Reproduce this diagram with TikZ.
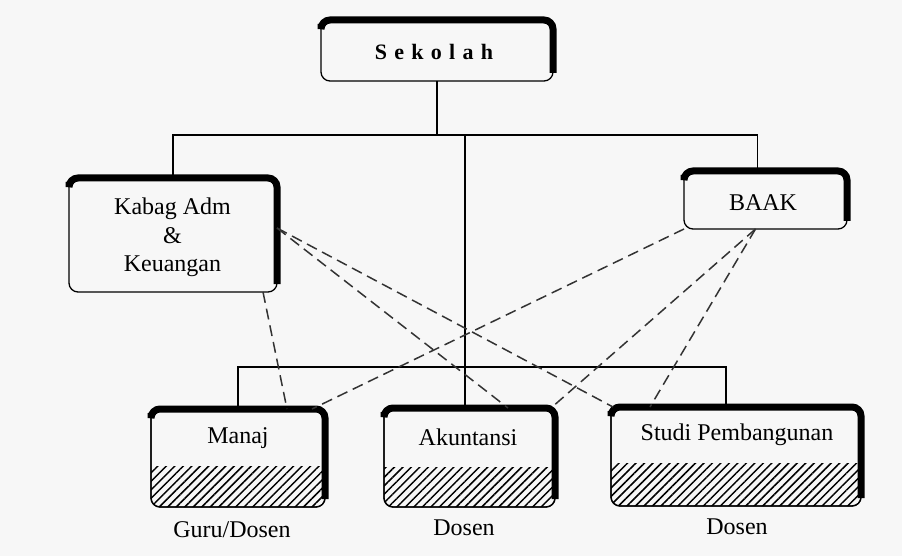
\documentclass[tikz,border=0pt]{standalone}
\usepackage{fontspec}
\setmainfont{Liberation Serif}
\newfontfamily\sekfont[LetterSpace=33]{Liberation Serif}
\usetikzlibrary{patterns.meta}
\begin{document}
\begin{tikzpicture}[x=1pt,y=-1pt,
  box/.style={draw, line width=1.3pt, rounded corners=9pt, inner sep=0pt, outer sep=0pt},
  shadowline/.style={line width=7pt, rounded corners=9pt},
  conn/.style={line width=1.8pt},
  dashlink/.style={line width=1.5pt, black!80, dash pattern=on 11pt off 6pt},
  txt/.style={font=\fontsize{24}{28.5}\selectfont, inner sep=0pt, align=center},
  hatch/.style={pattern={Lines[angle=45,distance=6pt,line width=1.5pt]}}]
\useasboundingbox (0,0) rectangle (902,556);
\fill[black!3] (0,0) rectangle (902,556);

% boxes
\node[box, minimum width=232pt, minimum height=61pt] (sek) at (437,50.5) {};
\node[box, minimum width=208pt, minimum height=114pt] (kabag) at (173,235) {};
\node[box, minimum width=163pt, minimum height=58pt] (baak) at (765.5,200) {};
\node[box, minimum width=174pt, minimum height=98pt] (manaj) at (238,458) {};
\node[box, minimum width=171pt, minimum height=99pt] (akun) at (469.5,457.5) {};
\node[box, minimum width=250pt, minimum height=99pt] (studi) at (736,456.5) {};

% hatched lower parts
\begin{scope}
  \clip[rounded corners=9pt] (manaj.north west) rectangle (manaj.south east);
  \path[hatch] (manaj.south west) rectangle ([yshift=41pt]manaj.south east);
\end{scope}
\begin{scope}
  \clip[rounded corners=9pt] (akun.north west) rectangle (akun.south east);
  \path[hatch] (akun.south west) rectangle ([yshift=40pt]akun.south east);
\end{scope}
\begin{scope}
  \clip[rounded corners=9pt] (studi.north west) rectangle (studi.south east);
  \path[hatch] (studi.south west) rectangle ([yshift=43pt]studi.south east);
\end{scope}
\foreach \n in {manaj,akun,studi}
  \draw[line width=1.3pt, rounded corners=9pt] (\n.north west) rectangle (\n.south east);

% thick top/right edges
\foreach \n in {sek,kabag,baak,manaj,akun,studi}
  \draw[shadowline] ([yshift=-4pt]\n.north west) -- (\n.north west) -- (\n.north east) -- ([yshift=8pt]\n.south east);

% texts
\node[txt, font=\fontsize{22}{26}\selectfont\sekfont\bfseries] (sekt) at (434,52) {Sekolah};
\node[txt] (kabagt) at (172.5,237.5) {Kabag Adm\\\&\\Keuangan};
\node[txt] (baakt) at (763,203) {BAAK};
\node[txt] (manajt) at (238,438) {Manaj};
\node[txt] (akunt) at (468,437) {Akuntansi};
\node[txt] (studit) at (737,435) {Studi Pembangunan};
\node[txt] (lab1) at (232,530) {Guru/Dosen};
\node[txt] (lab2) at (464,528) {Dosen};
\node[txt] (lab3) at (737,527) {Dosen};

% solid tree connectors
\coordinate (hbar) at (0,135);
\coordinate (bbar) at (0,367);
\coordinate (hc) at (465,135);
\coordinate (bn) at ([xshift=-8pt]baak.north);
\coordinate (sn) at ([xshift=-10pt]studi.north);
\coordinate (an) at (465,408);
\draw[conn] (sek.south) -- (sek.south |- hbar);
\draw[conn] (kabag.north) -- (kabag.north |- hbar) -- (bn |- hbar) -- (bn);
\draw[conn] (hc) -- (an);
\draw[conn] (manaj.north) -- (manaj.north |- bbar) -- (sn |- bbar) -- (sn);

% dashed relations
\draw[dashlink] ([xshift=-14pt]kabag.south east) -- ([xshift=-38pt]manaj.north east);
\draw[dashlink] ([yshift=7pt]kabag.east) -- ([xshift=-47pt]akun.north east);
\draw[dashlink] ([yshift=7pt]kabag.east) -- ([xshift=2pt]studi.north west);
\draw[dashlink] (baak.south west) -- ([xshift=-13pt]manaj.north east);
\draw[dashlink] ([xshift=-10pt]baak.south) -- ([xshift=-4pt]akun.north east);
\draw[dashlink] ([xshift=-10pt]baak.south) -- ([xshift=39pt]studi.north west);
\end{tikzpicture}
\end{document}
